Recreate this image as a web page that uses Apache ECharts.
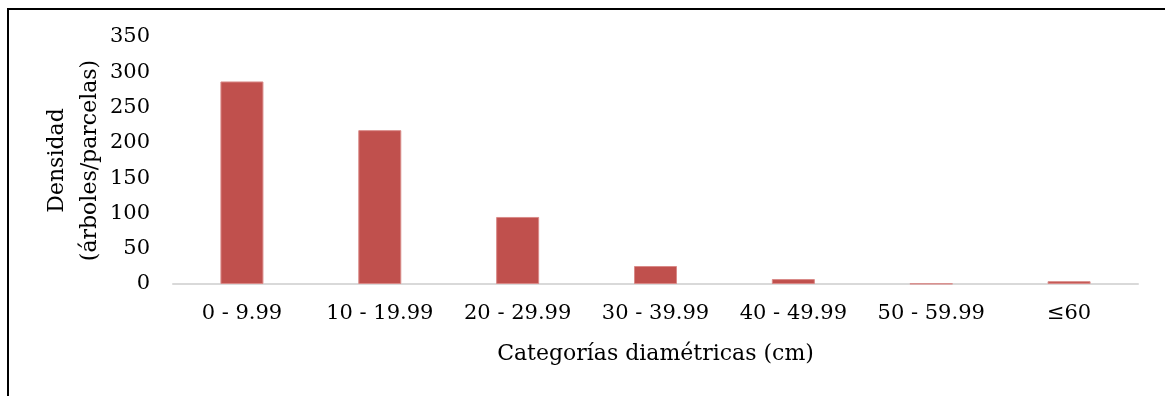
<!DOCTYPE html>
<html>
<head>
<meta charset="utf-8">
<script src="https://cdn.jsdelivr.net/npm/echarts@6/dist/echarts.min.js"></script>
<style>
html,body{margin:0;padding:0;background:#fff;}
#chart{width:1165px;height:396px;}
</style>
</head>
<body>
<div id="chart"></div>
<script>
const categories = ['0 - 9.99', '10 - 19.99', '20 - 29.99', '30 - 39.99', '40 - 49.99', '50 - 59.99', '≤60'];
const densidad = [287, 218, 95, 25.5, 7, 0.5, 4];
const yTicks = { min: 0, max: 350, interval: 50 };
const xAxisTitle = 'Categorías diamétricas (cm)';
const yAxisTitle = 'Densidad\n(árboles/parcelas)';

const FONT = 'DejaVu Serif';
const chart = echarts.init(document.getElementById('chart'));
chart.setOption({
  backgroundColor: '#fff',
  animation: false,
  graphic: [{
    type: 'polyline',
    shape: { points: [[8, 400], [8, 9], [1170, 9]] },
    style: { stroke: '#000', lineWidth: 2, fill: null },
    silent: true
  }],
  grid: { left: 173, right: 27, top: 37, bottom: 112 },
  xAxis: {
    type: 'category',
    data: categories,
    axisLine: { lineStyle: { color: '#d9d9d9', width: 2 } },
    axisTick: { show: false },
    axisLabel: { color: '#000', fontFamily: FONT, fontSize: 21, margin: 19, interval: 0 },
    name: xAxisTitle,
    nameLocation: 'middle',
    nameGap: 59,
    nameMoveOverlap: false,
    nameTextStyle: { color: '#000', fontFamily: FONT, fontSize: 22 }
  },
  yAxis: {
    type: 'value',
    min: yTicks.min,
    max: yTicks.max,
    interval: yTicks.interval,
    axisLine: { show: false },
    axisTick: { show: false },
    splitLine: { show: false },
    axisLabel: { color: '#000', fontFamily: FONT, fontSize: 21, margin: 23 },
    name: yAxisTitle,
    nameLocation: 'middle',
    nameGap: 66,
    nameRotate: 90,
    nameMoveOverlap: false,
    nameTextStyle: { color: '#000', fontFamily: FONT, fontSize: 22, lineHeight: 33, align: 'center' }
  },
  series: [{
    type: 'bar',
    data: densidad,
    barWidth: 43,
    itemStyle: { color: '#C0504D', borderColor: '#d98a88', borderWidth: 1 }
  }]
});
</script>
</body>
</html>
